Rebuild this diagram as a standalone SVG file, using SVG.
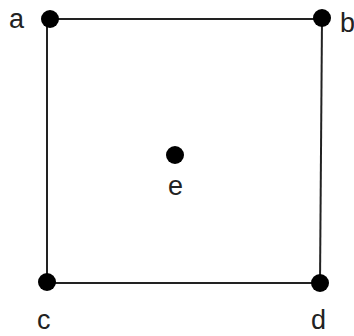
<svg xmlns="http://www.w3.org/2000/svg" width="354" height="336" viewBox="0 0 354 336">
<style>
.dot{fill:#000}
.lbl{font-family:"Liberation Sans",Arial,sans-serif;font-size:27px;fill:#222}
.edge{stroke:#222;stroke-width:2;fill:none}
</style>
<rect width="354" height="336" fill="#fff"/>
<g id="connectors">
<line class="edge" x1="49" y1="19" x2="322" y2="19"/>
<line class="edge" x1="47" y1="19" x2="47" y2="283"/>
<line class="edge" x1="322" y1="19" x2="320" y2="283"/>
<line class="edge" x1="47" y1="283" x2="320" y2="283"/>
</g>
<g id="a"><circle class="dot" cx="50" cy="19" r="9"/><text class="lbl" x="9" y="28">a</text></g>
<g id="b"><circle class="dot" cx="322" cy="18" r="9"/><text class="lbl" x="340" y="32">b</text></g>
<g id="c"><circle class="dot" cx="47" cy="282" r="9"/><text class="lbl" x="37" y="329">c</text></g>
<g id="d"><circle class="dot" cx="320" cy="283" r="9"/><text class="lbl" x="311" y="329">d</text></g>
<g id="e"><circle class="dot" cx="175" cy="155" r="9"/><text class="lbl" x="168" y="195">e</text></g>
</svg>
